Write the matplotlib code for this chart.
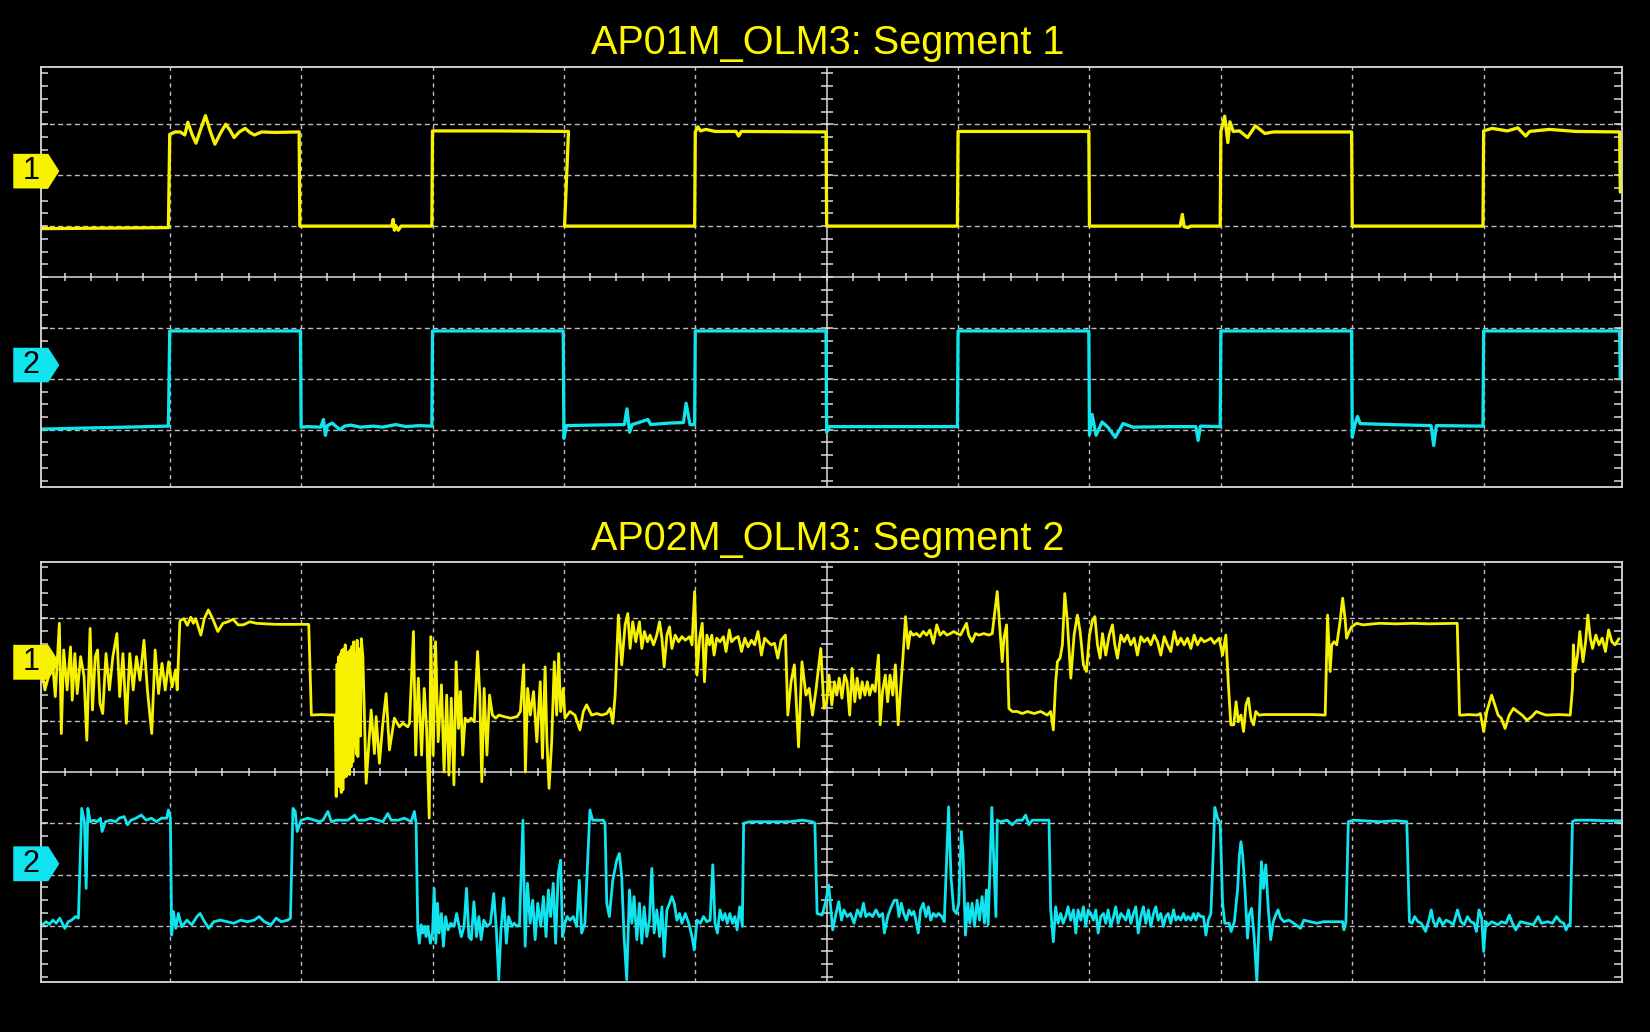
import numpy as np
import matplotlib
matplotlib.use("Agg")
import matplotlib.pyplot as plt
from matplotlib.patches import Polygon
from matplotlib.collections import LineCollection
import matplotlib.transforms as mtransforms

plt.rcParams['font.family'] = ['Liberation Sans', 'DejaVu Sans']

# ---------------- data (x in horizontal divisions, y in vertical divisions) ----------------
TITLES = ["AP01M_OLM3: Segment 1", "AP02M_OLM3: Segment 2"]
CH_LABELS = ["1", "2"]
MARKER_LEVELS_TOP = [2.08, -1.73]
MARKER_LEVELS_BOT = [2.14, -1.79]
X_DIVS = 12

TOP_CH1 = [
(0.00,0.95),(0.50,0.96),(0.99,0.97),
(1.00,2.80),(1.04,2.85),(1.08,2.85),(1.115,2.79),(1.138,3.04),(1.17,2.80),(1.20,2.63),(1.235,2.90),(1.272,3.17),(1.31,2.85),(1.344,2.61),(1.385,2.82),(1.426,3.00),(1.46,2.88),(1.49,2.74),(1.53,2.85),(1.574,2.92),(1.61,2.84),(1.644,2.79),(1.70,2.85),(1.80,2.84),(1.985,2.85),
(1.99,1.00),(2.30,1.00),(2.69,1.00),(2.70,1.13),(2.71,0.92),(2.72,1.01),(2.74,0.92),(2.76,1.00),(2.995,1.00),
(3.00,2.87),(3.50,2.87),(4.035,2.86),
(4.005,1.00),(4.50,1.00),(4.995,1.00),
(5.00,2.85),(5.02,2.95),(5.04,2.87),(5.08,2.90),(5.15,2.86),(5.31,2.86),(5.33,2.77),(5.35,2.86),(5.995,2.85),
(6.00,1.00),(6.995,1.00),
(7.00,2.86),(7.995,2.86),
(8.00,1.00),(8.69,1.00),(8.707,1.23),(8.72,0.99),(8.75,0.97),(8.77,1.00),(8.995,1.00),
(9.00,2.86),(9.029,3.16),(9.053,2.64),(9.069,3.05),(9.094,2.86),(9.142,2.87),(9.203,2.74),(9.263,2.97),(9.335,2.82),(9.40,2.85),(9.995,2.85),
(10.00,1.00),(10.995,1.00),
(11.00,2.87),(11.065,2.92),(11.18,2.87),(11.26,2.93),(11.32,2.77),(11.35,2.86),(11.50,2.90),(11.70,2.86),(12.035,2.85),
(12.04,1.67)]

TOP_CH2 = [
(0.00,-2.99),(0.50,-2.96),(0.99,-2.93),
(1.00,-1.06),(1.995,-1.06),
(2.00,-2.95),(2.05,-2.94),(2.15,-2.95),(2.17,-2.80),(2.185,-3.11),(2.20,-2.92),(2.236,-2.87),(2.296,-3.00),(2.33,-2.93),(2.38,-2.91),(2.45,-2.95),(2.55,-2.93),(2.617,-2.95),(2.72,-2.90),(2.80,-2.94),(2.90,-2.92),(2.995,-2.93),
(3.00,-1.06),(3.995,-1.06),
(4.00,-3.17),(4.02,-2.92),(4.20,-2.91),(4.46,-2.90),(4.48,-2.59),(4.50,-3.05),(4.52,-2.90),(4.64,-2.80),(4.66,-2.90),(4.80,-2.87),(4.91,-2.86),(4.93,-2.48),(4.96,-2.90),(4.995,-2.90),
(5.00,-1.06),(5.995,-1.06),
(6.00,-3.05),(6.02,-2.94),(6.995,-2.94),
(7.00,-1.06),(7.995,-1.06),
(8.00,-3.10),(8.02,-2.70),(8.05,-3.11),(8.096,-2.85),(8.14,-2.95),(8.196,-3.15),(8.256,-2.88),(8.33,-2.95),(8.60,-2.94),(8.81,-2.94),(8.827,-3.21),(8.845,-2.93),(8.995,-2.94),
(9.00,-1.06),(9.995,-1.06),
(10.00,-3.15),(10.02,-2.90),(10.04,-2.74),(10.06,-2.88),(10.30,-2.90),(10.60,-2.92),(10.62,-3.31),(10.64,-2.92),(10.995,-2.93),
(11.00,-1.06),(12.035,-1.06),
(12.04,-2.0)]

BOT_CH1 = [
(0.000,1.90),(0.020,2.10),(0.050,1.60),(0.077,1.86),(0.103,2.31),(0.129,1.47),(0.160,2.90),(0.175,0.75),(0.193,2.38),(0.219,1.60),(0.245,2.44),(0.258,1.40),(0.278,2.31),(0.296,1.53),(0.322,2.25),(0.348,1.86),(0.369,0.62),(0.394,2.80),(0.412,1.21),(0.433,2.25),(0.451,2.38),(0.469,1.34),(0.490,1.14),(0.515,2.31),(0.541,1.60),(0.567,2.25),(0.598,2.70),(0.619,1.47),(0.644,2.31),(0.670,0.95),(0.696,2.31),(0.722,1.60),(0.747,2.25),(0.773,1.79),(0.804,2.57),(0.830,1.60),(0.863,0.75),(0.889,2.38),(0.915,1.53),(0.941,2.12),(0.966,1.60),(0.992,2.15),(1.018,1.66),(1.044,1.99),(1.057,1.60),
(1.077,2.93),(1.082,2.96),(1.108,2.99),(1.134,2.86),(1.160,3.02),(1.180,2.90),(1.198,2.99),(1.237,2.67),(1.263,2.99),(1.294,3.16),(1.327,2.99),(1.366,2.74),(1.405,2.90),(1.443,2.93),(1.482,2.98),(1.520,2.87),(1.560,2.87),(1.610,2.93),(1.660,2.90),(1.800,2.88),(2.058,2.88),
(2.078,1.11),(2.150,1.12),(2.260,1.11),
(2.267,-0.48),(2.2735,2.10),(2.280,-0.20),(2.2865,2.25),(2.293,-0.29),(2.299,2.30),(2.305,-0.40),(2.311,2.38),(2.318,-0.35),(2.324,2.40),(2.330,-0.10),(2.336,2.48),(2.343,-0.09),(2.350,2.20),(2.357,0.05),(2.363,2.35),(2.369,-0.05),(2.375,2.38),(2.380,0.10),(2.387,2.45),(2.394,0.20),(2.400,2.54),(2.407,0.49),(2.414,2.30),(2.420,0.35),(2.426,2.57),(2.432,0.30),(2.442,2.40),(2.452,0.70),(2.458,2.60),(2.470,2.25),(2.495,-0.22),(2.533,1.21),(2.558,0.36),(2.571,1.08),(2.596,0.17),(2.622,0.95),(2.647,1.53),(2.672,0.43),(2.710,1.05),(2.748,0.88),(2.774,0.95),(2.812,0.88),(2.825,0.95),
(2.855,2.74),(2.872,0.33),(2.892,1.83),(2.917,0.33),(2.937,1.63),(2.955,0.85),(2.975,-0.90),(2.987,2.64),(3.005,0.33),(3.023,2.54),(3.043,0.59),(3.068,1.70),(3.088,0.00),(3.108,1.50),(3.125,-0.06),(3.143,1.44),(3.163,-0.25),(3.180,2.15),(3.198,0.85),(3.213,1.57),(3.230,0.33),(3.248,1.05),(3.268,0.98),(3.293,1.05),(3.318,0.98),(3.343,2.35),(3.360,1.50),(3.375,-0.19),(3.393,1.63),(3.414,0.33),(3.434,1.50),(3.456,1.11),(3.481,1.05),(3.506,1.11),(3.544,1.08),(3.594,1.05),(3.644,1.08),(3.669,1.18),(3.694,2.09),(3.707,0.00),(3.724,1.63),(3.744,1.11),(3.769,1.57),(3.794,0.59),(3.820,1.76),(3.837,0.27),(3.857,2.05),(3.870,0.66),(3.887,-0.32),(3.907,0.59),(3.927,2.15),(3.945,1.11),(3.960,2.31),(3.975,1.18),(3.995,1.63),
(4.008,1.05),(4.046,1.18),(4.084,1.11),(4.122,0.82),(4.148,1.18),(4.173,1.31),(4.211,1.11),(4.250,1.14),(4.288,1.11),(4.326,1.14),(4.351,1.24),(4.372,0.95),(4.390,1.50),
(4.415,3.06),(4.440,2.09),(4.466,2.87),(4.486,3.09),(4.504,2.41),(4.524,2.93),(4.547,2.54),(4.575,2.93),(4.593,2.41),(4.613,2.74),(4.636,2.54),(4.656,2.67),(4.682,2.48),(4.707,2.67),(4.728,2.93),(4.746,2.61),(4.763,2.05),(4.784,2.67),(4.804,2.83),(4.822,2.41),(4.847,2.67),(4.873,2.54),(4.898,2.64),(4.924,2.57),(4.957,2.64),(4.975,2.48),(4.995,3.52),(5.013,1.89),(5.033,2.61),(5.053,2.90),(5.070,1.76),(5.088,2.67),(5.108,2.48),(5.126,2.67),(5.143,2.28),(5.163,2.61),(5.188,2.54),(5.214,2.64),(5.234,2.35),(5.259,2.77),(5.276,2.54),(5.302,2.61),(5.327,2.64),(5.352,2.35),(5.377,2.61),(5.402,2.44),(5.427,2.57),(5.452,2.48),(5.477,2.74),(5.503,2.28),(5.528,2.61),(5.553,2.54),(5.578,2.48),(5.603,2.51),(5.628,2.22),(5.653,2.57),(5.686,2.67),
(5.704,1.11),(5.729,1.76),(5.754,2.09),(5.786,0.49),(5.812,2.15),(5.842,1.50),(5.867,1.63),(5.892,1.11),(5.917,1.57),(5.955,2.41),(5.980,1.24),
(6.000,1.37),(6.018,1.89),(6.039,1.31),(6.059,1.76),(6.077,1.50),(6.095,1.83),(6.116,1.44),(6.137,1.89),(6.155,1.76),(6.175,1.11),(6.193,2.02),(6.214,1.37),(6.232,1.83),(6.253,1.44),(6.270,1.76),(6.291,1.50),(6.309,1.76),(6.327,1.50),(6.348,1.70),(6.369,1.57),(6.394,2.28),(6.407,0.92),(6.425,1.57),(6.446,1.89),(6.464,1.37),(6.482,1.89),(6.503,1.50),(6.523,2.09),(6.544,0.92),(6.559,1.50),(6.580,2.22),
(6.600,3.03),(6.619,2.41),(6.637,2.74),(6.657,2.67),(6.683,2.70),(6.709,2.64),(6.735,2.74),(6.760,2.67),(6.786,2.77),(6.812,2.51),(6.838,2.87),(6.863,2.67),(6.889,2.74),(6.915,2.67),(6.941,2.70),(6.967,2.74),(6.992,2.70),(7.018,2.67),(7.064,2.90),(7.081,2.67),(7.107,2.54),(7.132,2.70),(7.158,2.67),(7.196,2.70),(7.234,2.67),(7.260,2.70),(7.277,3.06),(7.298,3.52),(7.323,2.61),(7.336,2.15),(7.349,2.61),(7.369,2.87),
(7.387,1.24),(7.412,1.18),(7.450,1.18),(7.489,1.14),(7.527,1.18),(7.578,1.14),(7.629,1.18),(7.679,1.11),(7.705,1.18),(7.725,0.82),(7.743,1.76),(7.756,2.15),(7.776,2.22),(7.794,2.48),(7.812,3.48),(7.832,2.93),(7.858,1.83),(7.883,2.67),(7.908,3.06),(7.929,2.74),(7.954,2.09),(7.977,1.96),(8.000,2.67),(8.023,2.96),(8.041,3.03),(8.061,2.48),(8.081,2.22),(8.099,2.70),(8.124,2.28),(8.150,2.67),(8.175,2.87),(8.193,2.48),(8.213,2.22),(8.239,2.67),(8.264,2.54),(8.289,2.67),(8.315,2.48),(8.340,2.61),(8.365,2.28),(8.391,2.64),(8.416,2.54),(8.442,2.61),(8.467,2.48),(8.492,2.67),(8.518,2.54),(8.543,2.28),(8.569,2.64),(8.594,2.48),(8.619,2.35),(8.645,2.74),(8.670,2.48),(8.695,2.61),(8.721,2.48),(8.746,2.61),(8.772,2.41),(8.797,2.67),(8.822,2.48),(8.848,2.61),(8.873,2.54),(8.898,2.57),(8.924,2.61),(8.949,2.51),(8.987,2.61),(9.013,2.28),(9.038,2.67),(9.056,1.76),
(9.076,0.92),(9.098,0.92),(9.116,1.37),(9.133,0.98),(9.153,1.11),(9.173,0.79),(9.191,1.31),(9.209,1.44),(9.229,1.05),(9.249,0.92),(9.266,1.18),(9.291,1.11),(9.329,1.12),(9.455,1.12),(9.580,1.12),(9.706,1.12),(9.794,1.11),
(9.812,3.06),(9.832,1.96),(9.844,2.48),(9.862,2.54),(9.882,2.48),(9.907,2.93),(9.927,3.39),(9.945,3.00),(9.957,2.61),(9.977,2.74),(9.995,2.83),(10.033,2.90),(10.083,2.87),(10.209,2.90),(10.334,2.89),(10.460,2.90),(10.585,2.89),(10.799,2.90),
(10.817,1.11),(10.837,1.11),(10.887,1.12),(10.950,1.11),(10.975,1.14),(11.000,0.79),(11.024,1.18),(11.061,1.50),(11.085,1.31),(11.110,1.11),(11.134,1.05),(11.163,0.85),(11.195,1.11),(11.227,1.24),(11.256,1.18),(11.293,1.11),(11.329,1.01),(11.366,1.08),(11.402,1.18),(11.439,1.14),(11.476,1.11),(11.573,1.12),(11.659,1.11),
(11.676,1.63),(11.683,2.48),(11.695,1.96),(11.715,2.28),(11.732,2.74),(11.756,2.15),(11.776,2.54),(11.793,3.06),(11.812,2.61),(11.829,2.41),(11.854,2.67),(11.878,2.48),(11.902,2.61),(11.927,2.35),(11.951,2.77),(11.976,2.54),(12.000,2.48),(12.030,2.60)]

BOT_CH2 = [
(0.000,-2.92),(0.033,-2.98),(0.059,-2.92),(0.085,-2.97),(0.111,-2.89),(0.136,-2.95),(0.163,-2.85),(0.188,-2.98),(0.202,-3.05),(0.227,-2.92),(0.253,-2.89),(0.284,-2.82),(0.305,-2.85),
(0.330,-0.71),(0.351,-0.97),(0.364,-2.27),(0.377,-0.71),(0.395,-0.97),(0.421,-0.94),(0.447,-0.97),(0.473,-0.90),(0.485,-1.16),(0.511,-0.97),(0.550,-0.94),(0.589,-0.97),(0.615,-0.90),(0.653,-0.87),(0.679,-1.03),(0.705,-0.94),(0.744,-0.90),(0.783,-0.84),(0.822,-0.94),(0.860,-0.90),(0.899,-0.97),(0.938,-0.90),(0.977,-0.90),(0.990,-0.74),(1.005,-0.90),
(1.015,-3.18),(1.028,-2.72),(1.046,-3.05),(1.066,-2.76),(1.091,-3.02),(1.130,-2.89),(1.168,-2.98),(1.207,-2.82),(1.232,-2.76),(1.258,-2.89),(1.297,-3.05),(1.335,-2.92),(1.386,-2.89),(1.437,-2.92),(1.488,-2.95),(1.540,-2.89),(1.591,-2.92),(1.642,-2.89),(1.681,-2.82),(1.720,-2.92),(1.771,-2.98),(1.810,-2.85),(1.848,-2.92),(1.899,-2.89),(1.919,-2.85),
(1.938,-0.71),(1.955,-0.77),(1.970,-1.16),(2.000,-0.94),(2.052,-0.90),(2.103,-0.94),(2.141,-0.97),(2.166,-0.94),(2.204,-0.77),(2.230,-0.97),(2.268,-0.94),(2.305,-0.94),(2.356,-0.94),(2.407,-0.84),(2.432,-0.94),(2.483,-0.94),(2.533,-0.90),(2.584,-0.94),(2.622,-0.97),(2.660,-0.81),(2.685,-0.94),(2.736,-0.94),(2.787,-0.90),(2.838,-0.97),(2.862,-0.77),(2.875,-1.00),
(2.888,-3.08),(2.900,-3.34),(2.913,-2.98),(2.926,-3.14),(2.938,-3.01),(2.951,-3.21),(2.964,-3.01),(2.984,-3.34),(3.000,-3.14),(3.013,-2.27),(3.025,-3.34),(3.038,-2.56),(3.050,-3.14),(3.068,-2.76),(3.083,-3.40),(3.100,-2.82),(3.118,-3.08),(3.139,-2.95),(3.164,-3.01),(3.184,-2.76),(3.202,-3.01),(3.219,-3.21),(3.240,-3.01),(3.259,-2.27),(3.277,-3.21),(3.295,-3.27),(3.315,-2.53),(3.335,-3.21),(3.353,-2.82),(3.370,-3.27),(3.390,-2.89),(3.416,-3.01),(3.441,-2.95),(3.466,-2.37),(3.486,-3.08),(3.504,-4.05),(3.521,-3.08),(3.542,-2.46),(3.562,-3.34),(3.579,-2.82),(3.605,-3.01),(3.622,-2.95),(3.642,-3.01),(3.662,-2.98),(3.688,-0.94),(3.705,-3.40),(3.723,-2.17),(3.743,-2.95),(3.763,-2.50),(3.781,-3.27),(3.801,-2.56),(3.824,-3.01),(3.844,-2.43),(3.864,-3.21),(3.882,-2.30),(3.899,-2.82),(3.919,-2.17),(3.937,-3.34),(3.957,-1.98),(3.975,-1.72),(3.990,-3.21),(4.008,-2.95),(4.025,-2.82),(4.046,-2.89),(4.071,-2.82),(4.097,-3.01),(4.117,-2.11),(4.135,-3.14),(4.160,-2.95),(4.178,-1.91),
(4.198,-0.74),(4.219,-0.94),(4.249,-0.94),(4.300,-0.94),(4.313,-1.00),
(4.326,-2.56),(4.346,-2.82),(4.372,-2.11),(4.402,-1.72),(4.422,-1.59),(4.440,-2.04),(4.458,-3.21),(4.478,-4.05),(4.499,-2.30),(4.517,-2.95),(4.534,-2.43),(4.555,-3.27),(4.575,-2.56),(4.593,-3.34),(4.611,-2.63),(4.631,-3.21),(4.651,-2.89),(4.669,-1.88),(4.687,-3.14),(4.707,-2.69),(4.728,-3.21),(4.746,-2.63),(4.763,-3.60),(4.784,-2.69),(4.804,-2.56),(4.822,-2.43),(4.840,-2.56),(4.860,-2.89),(4.880,-2.76),(4.898,-2.95),(4.924,-2.76),(4.950,-2.95),(4.975,-3.21),(4.992,-3.47),(5.013,-2.89),(5.038,-2.95),(5.063,-2.82),(5.088,-2.92),(5.113,-2.89),(5.133,-1.81),(5.150,-2.95),(5.168,-3.14),(5.188,-2.69),(5.208,-2.89),(5.226,-2.76),(5.243,-2.95),(5.263,-2.76),(5.283,-2.95),(5.301,-2.82),(5.318,-3.08),(5.338,-2.63),(5.358,-3.01),
(5.368,-1.00),(5.414,-0.97),(5.514,-0.97),(5.614,-0.97),(5.714,-0.97),(5.815,-0.94),(5.890,-0.97),(5.910,-1.00),
(5.927,-2.76),(5.965,-2.79),(5.990,-2.56),(6.015,-2.20),(6.028,-2.56),(6.046,-3.08),(6.066,-2.82),(6.092,-2.53),(6.113,-2.89),(6.131,-2.69),(6.156,-2.82),(6.182,-2.76),(6.208,-2.95),(6.234,-2.69),(6.259,-2.82),(6.280,-2.56),(6.298,-2.82),(6.324,-2.76),(6.349,-2.82),(6.375,-2.69),(6.401,-2.82),(6.426,-2.76),(6.439,-3.14),(6.465,-2.82),(6.491,-2.63),(6.516,-2.50),(6.535,-2.50),(6.550,-2.82),(6.568,-2.56),(6.586,-2.76),(6.607,-2.89),(6.627,-2.69),(6.645,-2.79),(6.663,-2.72),(6.679,-2.89),(6.697,-3.14),(6.714,-2.69),(6.735,-2.56),(6.756,-2.82),(6.774,-2.63),(6.792,-2.89),(6.812,-2.76),(6.833,-2.82),(6.851,-2.76),(6.877,-2.82),(6.895,-2.92),(6.910,-1.91),(6.928,-0.68),(6.946,-2.04),(6.967,-2.69),(6.987,-2.76),(7.005,-2.56),(7.025,-1.16),(7.038,-1.59),(7.056,-3.18),(7.074,-2.56),(7.089,-2.95),(7.107,-2.56),(7.125,-3.01),(7.145,-2.50),(7.163,-2.89),(7.183,-2.43),(7.201,-2.95),(7.216,-2.30),(7.229,-2.98),(7.241,-1.98),(7.257,-0.69),(7.275,-1.91),(7.288,-2.82),
(7.298,-0.94),(7.323,-0.97),(7.374,-0.94),(7.412,-1.03),(7.450,-0.94),(7.489,-0.94),(7.514,-0.84),(7.539,-1.03),(7.565,-0.94),(7.603,-0.94),(7.654,-0.94),(7.692,-0.94),
(7.705,-2.69),(7.725,-3.31),(7.743,-2.63),(7.761,-2.95),(7.781,-2.76),(7.800,-2.95),(7.819,-2.82),(7.837,-2.63),(7.857,-2.89),(7.878,-2.69),(7.896,-3.14),(7.913,-2.69),(7.934,-2.89),(7.954,-2.63),(7.972,-3.01),(7.990,-2.69),(8.010,-2.76),(8.030,-2.89),(8.048,-2.69),(8.066,-3.14),(8.086,-2.82),(8.107,-2.76),(8.124,-2.95),(8.142,-2.69),(8.162,-3.01),(8.183,-2.82),(8.200,-2.63),(8.218,-2.95),(8.239,-2.76),(8.259,-2.82),(8.277,-2.89),(8.297,-2.69),(8.315,-2.95),(8.335,-2.76),(8.353,-2.63),(8.371,-3.14),(8.391,-2.82),(8.411,-2.63),(8.429,-2.95),(8.449,-2.69),(8.467,-3.01),(8.487,-2.76),(8.505,-2.63),(8.523,-2.89),(8.543,-2.76),(8.563,-3.01),(8.581,-2.82),(8.599,-2.76),(8.619,-2.95),(8.640,-2.69),(8.657,-2.89),(8.675,-2.82),(8.695,-2.89),(8.716,-2.76),(8.734,-2.89),(8.751,-2.82),(8.772,-2.89),(8.792,-2.76),(8.810,-2.89),(8.827,-2.76),(8.848,-2.82),(8.868,-2.82),(8.886,-3.18),(8.904,-2.89),(8.924,-2.76),(8.937,-1.91),(8.954,-0.69),(8.975,-0.90),(8.995,-1.00),(9.013,-2.56),(9.030,-2.95),(9.063,-2.95),
(9.078,-3.11),(9.103,-2.92),(9.128,-2.27),(9.141,-1.62),(9.153,-1.36),(9.166,-1.62),(9.183,-2.27),(9.203,-3.24),(9.216,-2.79),(9.234,-2.66),(9.254,-3.24),(9.274,-4.09),(9.291,-2.92),(9.309,-1.75),(9.324,-2.27),(9.342,-1.81),(9.359,-2.59),(9.379,-3.27),(9.399,-2.92),(9.417,-2.79),(9.435,-2.69),(9.455,-2.85),(9.480,-2.92),(9.518,-2.89),(9.555,-2.95),(9.606,-3.05),(9.631,-2.89),(9.681,-2.92),(9.731,-2.95),(9.781,-2.92),(9.832,-2.92),(9.882,-2.92),(9.927,-2.92),(9.937,-3.08),(9.952,-2.92),
(9.970,-0.97),(10.008,-0.94),(10.083,-0.95),(10.209,-0.97),(10.334,-0.95),(10.415,-0.97),
(10.435,-2.92),(10.455,-2.95),(10.475,-2.82),(10.500,-2.92),(10.525,-2.95),(10.558,-3.11),(10.583,-2.89),(10.601,-2.69),(10.618,-2.92),(10.638,-3.01),(10.663,-2.85),(10.688,-2.98),(10.714,-2.89),(10.739,-2.92),(10.769,-2.98),(10.801,-2.69),(10.827,-2.92),(10.852,-2.98),(10.877,-2.82),(10.902,-2.92),(10.927,-2.95),(10.945,-3.11),(10.965,-2.69),(10.985,-2.85),(11.000,-3.50),(11.017,-2.92),(11.037,-2.98),(11.061,-2.92),(11.085,-2.95),(11.110,-2.98),(11.134,-2.92),(11.171,-2.95),(11.195,-2.79),(11.220,-2.95),(11.244,-3.08),(11.280,-2.92),(11.329,-2.95),(11.378,-2.98),(11.415,-2.82),(11.439,-2.95),(11.488,-2.92),(11.524,-2.95),(11.554,-2.82),(11.585,-2.92),(11.610,-2.95),(11.627,-3.08),(11.646,-2.98),(11.659,-2.98),
(11.676,-0.97),(11.695,-0.94),(11.817,-0.94),(11.915,-0.95),(12.040,-0.95)]

# ---------------- styling ----------------
YELLOW = '#F7F200'
CYAN = '#10E4EE'
TITLE_YELLOW = '#FFF700'
GRID = '#BDBDBD'
FRAME = '#DADADA'

W, H = 1650, 1032
fig = plt.figure(figsize=(W / 100, H / 100), dpi=100, facecolor='black')

X_LO, X_HI = 0.018, 12.05
LEFT = 40.7 / W
WIDTH = (1621.6 - 40.7) / W
AX_H = 419.4 / H
panels = [
    dict(bottom=1 - 486.7 / H, ylim=4.12, traces=[TOP_CH1, TOP_CH2], lw=2.35,
         markers=MARKER_LEVELS_TOP, title_y=1 - 54.5 / H),
    dict(bottom=1 - 981.7 / H, ylim=4.09, traces=[BOT_CH1, BOT_CH2], lw=2.0,
         markers=MARKER_LEVELS_BOT, title_y=1 - 550.5 / H),
]


def draw_graticule(ax, ylim):
    for gx in range(1, X_DIVS):
        if gx == X_DIVS // 2:
            continue
        ax.plot([gx, gx], [-ylim, ylim], color=GRID, lw=1.0,
                ls=(0, (3.0, 3.0)), zorder=1)
    for gy in (-3, -2, -1, 1, 2, 3):
        ax.plot([X_LO, X_HI], [gy, gy], color=GRID, lw=1.0,
                ls=(0, (3.6, 2.4)), zorder=1)
    ax.plot([X_LO, X_HI], [0, 0], color=FRAME, lw=1.1, zorder=1.5)
    ax.plot([X_DIVS / 2, X_DIVS / 2], [-ylim, ylim], color=FRAME, lw=1.1, zorder=1.5)
    segs = []
    for tx in np.arange(0.2, X_DIVS + 1e-6, 0.2):
        segs.append([(tx, -0.07), (tx, 0.07)])
    for ty in np.arange(-4, 4 + 1e-6, 0.25):
        segs.append([(X_DIVS / 2 - 0.046, ty), (X_DIVS / 2 + 0.046, ty)])
        segs.append([(X_LO, ty), (X_LO + 0.055, ty)])
        segs.append([(X_HI - 0.055, ty), (X_HI, ty)])
    ax.add_collection(LineCollection(segs, colors=FRAME, linewidths=1.1, zorder=1.5))


def draw_marker(ax, yc, label, color, half):
    tr = mtransforms.blended_transform_factory(ax.transAxes, ax.transData)
    x0, x1, x2 = -0.01735, 0.0048, 0.0118
    poly = Polygon([(x0, yc - half), (x1, yc - half), (x2, yc), (x1, yc + half), (x0, yc + half)],
                   closed=True, transform=tr, facecolor=color, edgecolor='none',
                   clip_on=False, zorder=6)
    ax.add_patch(poly)
    ax.text(-0.0062, yc, label, transform=tr, ha='center', va='center',
            fontsize=22, color='black', zorder=7, clip_on=False)


for i, p in enumerate(panels):
    ax = fig.add_axes([LEFT, p['bottom'], WIDTH, AX_H])
    ax.set_facecolor('black')
    ax.set_xlim(X_LO, X_HI)
    ax.set_ylim(-p['ylim'], p['ylim'])
    ax.set_xticks([])
    ax.set_yticks([])
    for s in ax.spines.values():
        s.set_color(FRAME)
        s.set_linewidth(1.3)
        s.set_zorder(5)
    draw_graticule(ax, p['ylim'])
    for trace, color in zip(p['traces'], [YELLOW, CYAN]):
        t = [a for a, b in trace]
        v = [b for a, b in trace]
        ax.plot(t, v, color=color, lw=p['lw'], solid_joinstyle='round',
                solid_capstyle='round', zorder=3)
    for yc, label, color in zip(p['markers'], CH_LABELS, [YELLOW, CYAN]):
        draw_marker(ax, yc, label, color, 0.34)
    fig.text(828 / W, p['title_y'], TITLES[i], ha='center', va='baseline',
             fontsize=28.5, color=TITLE_YELLOW)

fig.savefig('out.png', dpi=100, facecolor='black')
